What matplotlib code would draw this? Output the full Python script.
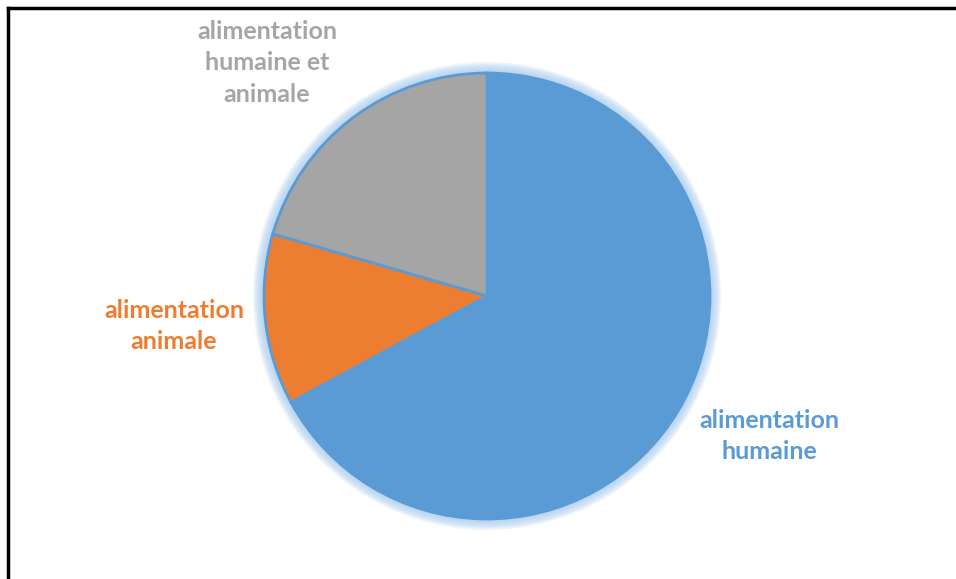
import matplotlib.pyplot as plt
from matplotlib.patches import Circle
from matplotlib.lines import Line2D

# Data (shares in %).
categories = ['alimentation\nhumaine', 'alimentation\nanimale', 'alimentation\nhumaine et\nanimale']
shares = [67.1, 12.4, 20.5]
colors = ['#5B9BD5', '#ED7D31', '#A5A5A5']

W, H = 956, 579
fig = plt.figure(figsize=(W / 100, H / 100), dpi=100)
fig.patch.set_facecolor('white')

# Pie centre around (487, 296) px, radius about 223 px.
cx, cy, r = 487, 296, 223
s = 1.08  # axes half-span in radius units
ax = fig.add_axes([(cx - r * s) / W, (H - cy - r * s) / H, 2 * s * r / W, 2 * s * r / H])

# Soft pale-blue glow around the pie.
for k in range(10):
    ax.add_patch(Circle((0, 0), 1.0 + 0.005 * (10 - k), color='#A9CDF0',
                        alpha=0.15, lw=0, zorder=0))

wedges, _ = ax.pie(shares, colors=colors, startangle=90, counterclock=False,
                   wedgeprops=dict(edgecolor='#5B9BD5', linewidth=2.0))
for w in wedges:
    w.set_zorder(2)
ax.set_xlim(-s, s)
ax.set_ylim(-s, s)
ax.set_aspect('equal')
ax.axis('off')

# Labels (positions in pixels from top-left).
label_pos = [(769, 436), (174, 326), (267, 63)]
for text, col, (x, y) in zip(categories, colors, label_pos):
    fig.text(x / W, 1 - y / H, text, color=col, fontsize=18, fontweight='bold',
             family='Lato', ha='center', va='center', linespacing=1.45)

# Frame: top and left borders only.
fig.add_artist(Line2D([8 / W, 1], [1 - 8 / H, 1 - 8 / H], color='black', lw=2.5,
                      transform=fig.transFigure))
fig.add_artist(Line2D([8 / W, 8 / W], [0, 1 - 8 / H], color='black', lw=2.5,
                      transform=fig.transFigure))

fig.savefig('out.png', dpi=100)
